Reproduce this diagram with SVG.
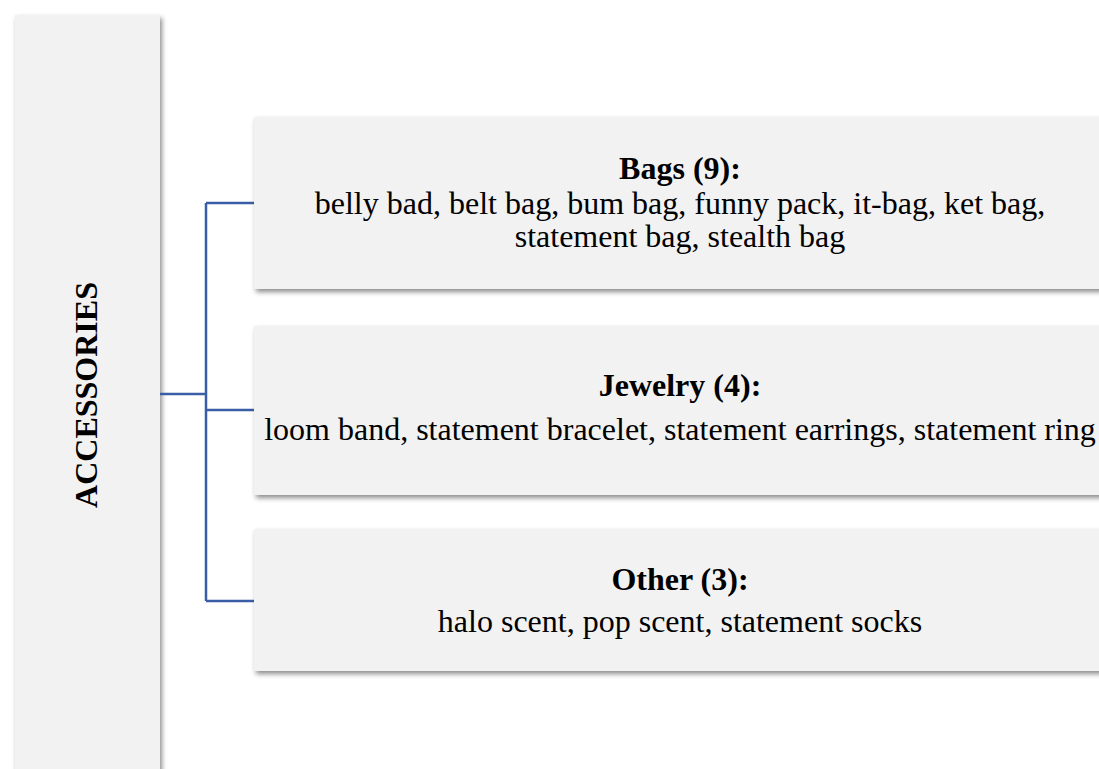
<svg xmlns="http://www.w3.org/2000/svg" width="1099" height="769" viewBox="0 0 1099 769">
<defs>
<filter id="sh" x="-10%" y="-10%" width="120%" height="130%">
<feDropShadow dx="2" dy="3" stdDeviation="2.5" flood-color="#000" flood-opacity="0.45"/>
</filter>
</defs>
<style>
.box{fill:#f2f2f2;filter:url(#sh);}
.t{font-family:"Liberation Serif","Times New Roman",serif;font-size:32px;fill:#000;text-anchor:middle;}
.b{font-weight:bold;}
.c{fill:none;stroke:#3a5ea6;stroke-width:2.5;}
</style>
<rect width="1099" height="769" fill="#fff"/>
<g id="root">
<rect class="box" x="15" y="15" width="145" height="790"/>
<text class="t b" transform="translate(97,395) rotate(-90)">ACCESSORIES</text>
</g>
<g id="connectors">
<path class="c" d="M160,394 H206 M206,203 V601 M206,203 H254 M206,410 H254 M206,601 H254"/>
</g>
<g id="bags">
<rect class="box" x="254" y="117" width="852" height="172"/>
<text class="t b" x="680" y="179">Bags (9):</text>
<text class="t" x="680" y="214">belly bad, belt bag, bum bag, funny pack, it-bag, ket bag,</text>
<text class="t" x="680" y="247">statement bag, stealth bag</text>
</g>
<g id="jewelry">
<rect class="box" x="254" y="326" width="852" height="169"/>
<text class="t b" x="680" y="396">Jewelry (4):</text>
<text class="t" x="680" y="440">loom band, statement bracelet, statement earrings, statement ring</text>
</g>
<g id="other">
<rect class="box" x="254" y="529" width="852" height="142"/>
<text class="t b" x="680" y="590">Other (3):</text>
<text class="t" x="680" y="632">halo scent, pop scent, statement socks</text>
</g>
</svg>
